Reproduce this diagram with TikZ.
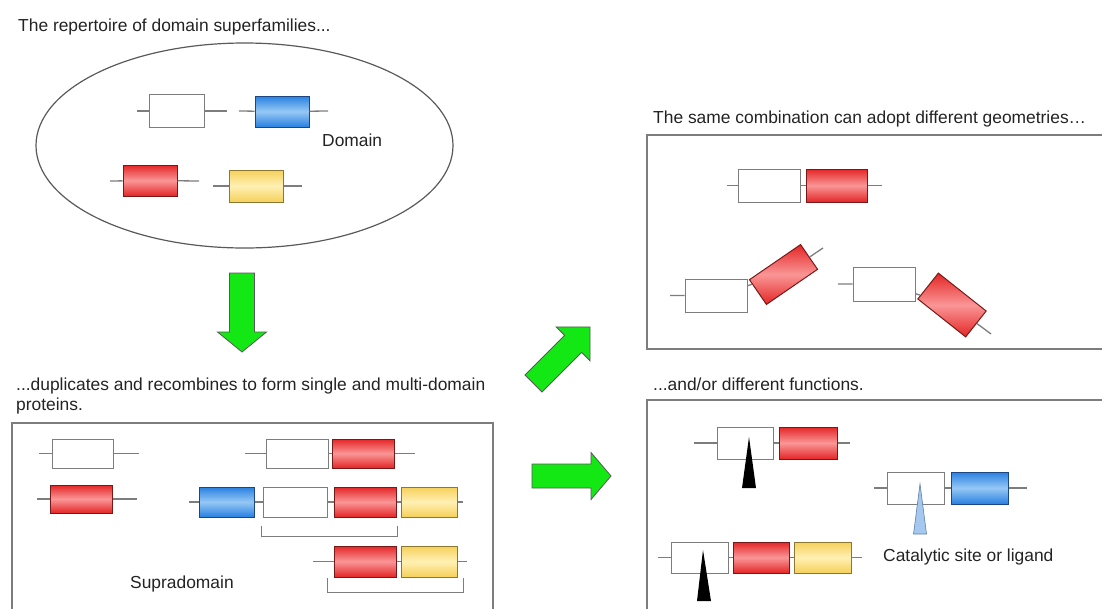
\documentclass[tikz,border=0pt]{standalone}
\usepackage{fontspec}
\setmainfont{Liberation Sans}
\usetikzlibrary{shapes.geometric}

\definecolor{linegray}{RGB}{125,125,125}
\definecolor{txtgray}{RGB}{35,35,35}
\definecolor{rededge}{RGB}{228,38,38}
\definecolor{redmid}{RGB}{250,150,150}
\definecolor{redline}{RGB}{120,25,25}
\definecolor{blueedge}{RGB}{40,128,225}
\definecolor{bluemid}{RGB}{150,200,245}
\definecolor{blueline}{RGB}{30,70,130}
\definecolor{yeledge}{RGB}{245,208,90}
\definecolor{yelmid}{RGB}{255,240,180}
\definecolor{yelline}{RGB}{140,120,50}
\definecolor{arrowgreen}{RGB}{20,232,20}
\definecolor{sitebl}{RGB}{165,200,240}

\tikzstyle{dom} = [rectangle, minimum width=62pt, minimum height=30pt, inner sep=0pt, line width=1pt]
\tikzstyle{plain} = [dom, draw=linegray, fill=white]
\tikzstyle{reddom} = [dom, draw=redline, top color=rededge, bottom color=rededge, middle color=redmid]
\tikzstyle{bluedom} = [dom, draw=blueline, top color=blueedge, bottom color=blueedge, middle color=bluemid]
\tikzstyle{yeldom} = [dom, draw=yelline, top color=yeledge, bottom color=yeledge, middle color=yelmid]
\tikzstyle{link} = [draw=linegray, line width=1.3pt]
\tikzstyle{panel} = [draw=linegray, line width=1.3pt]
\tikzstyle{caption} = [anchor=base west, inner sep=0pt, text=txtgray, align=left, font=\fontsize{17.4}{20}\selectfont]
\tikzstyle{bigarrow} = [fill=arrowgreen, draw=black!65, line width=0.8pt]

\begin{document}
\begin{tikzpicture}[x=1pt, y=-1pt]
\useasboundingbox (0,0) rectangle (1102,608);

% ------------------------- repertoire -------------------------
\node(t1)[caption] at (18,31) {The repertoire of domain superfamilies...};
\node(pool)[ellipse, draw=black!65, line width=1.2pt, minimum width=417pt, minimum height=205pt, inner sep=0pt] at (244.5,145.5) {};
% ----- single domains
\coordinate(p0a) at (137,111); \coordinate(p0b) at (227,111);
\node(w0)[plain, minimum width=55pt, minimum height=33pt] at (176.5,111) {};
\draw[link](p0a)--(w0)--(p0b);
\coordinate(p1a) at (239,111); \coordinate(p1b) at (328,111);
\node(b0)[bluedom, minimum width=54pt, minimum height=31pt] at (282,111.5) {};
\draw[link](p1a)--(b0)--(p1b);
\node(dlab)[caption] at (322,146) {Domain};
\coordinate(p2a) at (110,181); \coordinate(p2b) at (199,181);
\node(r0)[reddom, minimum width=54pt, minimum height=31pt] at (150,180.5) {};
\draw[link](p2a)--(r0)--(p2b);
\coordinate(p3a) at (213,186); \coordinate(p3b) at (302,186);
\node(y0)[yeldom, minimum width=54pt, minimum height=32pt] at (256,186) {};
\draw[link](p3a)--(y0)--(p3b);

% ------------------------- big arrows -------------------------
\begin{scope}[shift={(242,273)}, rotate=-90]
\draw[bigarrow] (0,-12.5)--(59,-12.5)--(59,-24.5)--(79,0)--(59,24.5)--(59,12.5)--(0,12.5)--cycle;
\end{scope}
\begin{scope}[shift={(533.5,383.5)}, rotate=45]
\draw[bigarrow] (0,-12)--(56,-12)--(56,-24)--(80,0)--(56,24)--(56,12)--(0,12)--cycle;
\end{scope}
\begin{scope}[shift={(532,476)}, rotate=0]
\draw[bigarrow] (0,-12)--(59,-12)--(59,-23.5)--(79,0)--(59,23.5)--(59,12)--(0,12)--cycle;
\end{scope}

% ------------------------- recombination -------------------------
\node(t2)[caption] at (16,410) {...duplicates and recombines to form single and multi-domain\\proteins.};
\draw[panel](12,612)--(12,423)--(493,423)--(493,612);
% ----- left column
\coordinate(q0a) at (39,453.5); \coordinate(q0b) at (139,453.5);
\node(w1)[plain, minimum width=61pt, minimum height=29pt] at (82.5,453.5) {};
\draw[link](q0a)--(w1)--(q0b);
\coordinate(q1a) at (37,499); \coordinate(q1b) at (137,499);
\node(r1)[reddom, minimum height=28pt] at (81,499) {};
\draw[link](q1a)--(r1)--(q1b);
% ----- two domains
\coordinate(q2a) at (245,453.5); \coordinate(q2b) at (415,453.5);
\node(w2)[plain, minimum height=29pt] at (297,453.5) {};
\node(r2)[reddom, minimum height=29pt] at (363,453.5) {};
\draw[link](q2a)--(w2)--(r2)--(q2b);
% ----- four domains
\coordinate(q3a) at (189,502); \coordinate(q3b) at (463,502);
\node(b3)[bluedom, minimum width=55pt] at (226.5,502) {};
\node(w3)[plain, minimum width=64pt] at (295,502) {};
\node(r3)[reddom] at (365,502) {};
\node(y3)[yeldom, minimum width=56pt] at (429,502) {};
\draw[link](q3a)--(b3)--(w3)--(r3)--(y3)--(q3b);
\draw[link, line width=1pt](261,526)--(261,536)--(397,536)--(397,526);
% ----- supradomain
\coordinate(q4a) at (313,561.5); \coordinate(q4b) at (467,561.5);
\node(r4)[reddom, minimum height=31pt] at (365,561.5) {};
\node(y4)[yeldom, minimum width=56pt, minimum height=31pt] at (429,561.5) {};
\draw[link](q4a)--(r4)--(y4)--(q4b);
\draw[link, line width=1pt](327,578)--(327,592)--(463,592)--(463,578);
\node(slab)[caption] at (130,588) {Supradomain};

% ------------------------- geometries -------------------------
\node(t3)[caption] at (653,123) {The same combination can adopt different geometries…};
\draw[panel](1106,135)--(647,135)--(647,349)--(1106,349);
\coordinate(g0a) at (727,185.5); \coordinate(g0b) at (882,185.5);
\node(g1w)[plain, minimum height=33pt] at (769,185.5) {};
\node(g1r)[reddom, minimum width=61pt, minimum height=33pt] at (836.5,185.5) {};
\draw[link](g0a)--(g1w)--(g1r)--(g0b);
% ----- bent up
\coordinate(g1a) at (670,295.5); \coordinate(g1b) at (823,248);
\node(g2w)[plain, minimum height=33pt] at (716,295.5) {};
\node(g2r)[reddom, minimum height=30pt, rotate=34.5] at (783.5,274.5) {};
\draw[link](g1a)--(g2w)--(g2r)--(g1b);
% ----- bent down
\coordinate(g2a) at (838,284); \coordinate(g2b) at (991,334);
\node(g3w)[plain, minimum height=34pt] at (884,284) {};
\node(g3r)[reddom, minimum width=61pt, minimum height=33pt, rotate=-38.4] at (952,305) {};
\draw[link](g2a)--(g3w)--(g3r)--(g2b);

% ------------------------- functions -------------------------
\node(t4)[caption] at (653,390) {...and/or different functions.};
\draw[panel](647,612)--(647,400)--(1106,400);
\coordinate(f0a) at (694,443); \coordinate(f0b) at (850,443);
\node(f1w)[plain, minimum width=56pt, minimum height=32pt] at (745,443) {};
\node(f1r)[reddom, minimum width=58pt, minimum height=32pt] at (808,443) {};
\draw[link](f0a)--(f1w)--(f1r)--(f0b);
\fill[black](749,437)--(756,488)--(742,488)--cycle;
% ----- catalytic site
\coordinate(f1a) at (874,488); \coordinate(f1b) at (1027,488);
\node(f2w)[plain, minimum width=57pt, minimum height=32pt] at (915.5,488) {};
\node(f2b)[bluedom, minimum width=57pt, minimum height=32pt] at (979.5,488) {};
\draw[link](f1a)--(f2w)--(f2b)--(f1b);
\draw[fill=sitebl, draw=blueline!70, line width=0.6pt](920,484)--(926.5,534)--(913.5,534)--cycle;
\node(clab)[caption] at (883,561) {Catalytic site or ligand};
% ----- three domains
\coordinate(f2a) at (658,557.5); \coordinate(f2c) at (862,557.5);
\node(f3w)[plain, minimum width=57pt, minimum height=31pt] at (699.5,557.5) {};
\node(f3r)[reddom, minimum width=56pt, minimum height=31pt] at (761,557.5) {};
\node(f3y)[yeldom, minimum width=57pt, minimum height=31pt] at (822.5,557.5) {};
\draw[link](f2a)--(f3w)--(f3r)--(f3y)--(f2c);
\fill[black](703,550)--(711,601)--(697,601)--cycle;

\end{tikzpicture}
\end{document}
